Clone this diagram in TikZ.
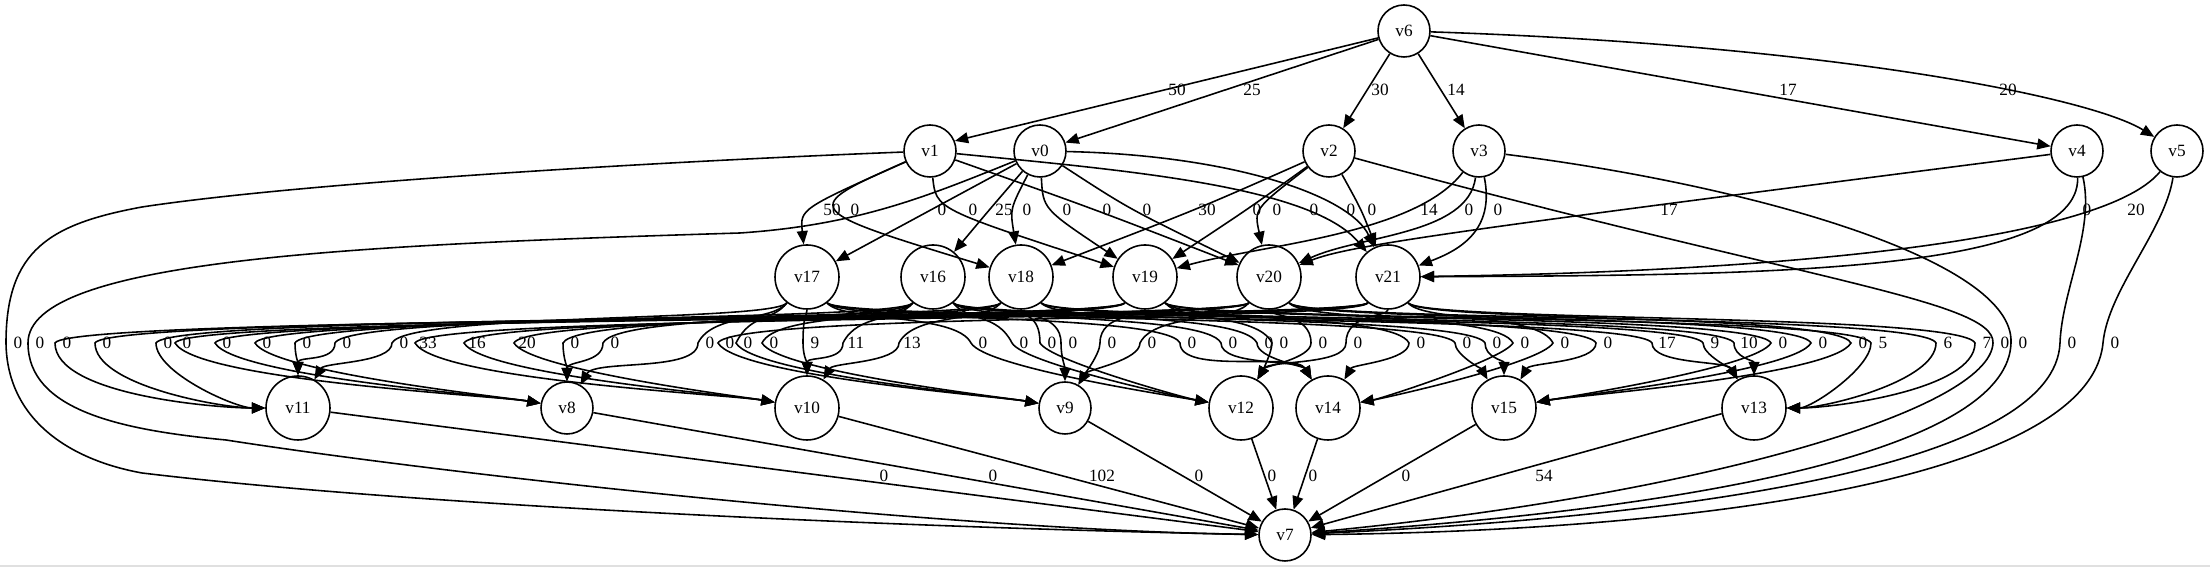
\documentclass[tikz,border=0pt]{standalone}
\usepackage{fontspec}
\setmainfont{Liberation Serif}
\usepackage{xcolor}
\usetikzlibrary{arrows.meta}
\begin{document}
\begin{tikzpicture}[scale=1,
every node/.style={font=\fontsize{4.9}{5.9}\selectfont},
vtx/.style={draw,circle,inner sep=0pt,minimum size=0.52cm,line width=0.45pt},
vtxw/.style={vtx,minimum size=0.64cm},
ed/.style={line width=0.45pt,-{Triangle[length=3.8pt,width=3.1pt]}},
lab/.style={inner sep=0pt},
toL/.style={out=-90,in=180,looseness=0.6},
toLL/.style={out=-60,in=170,looseness=0.3},
toT/.style={out=-90,in=90},
toTL/.style={out=-90,in=120,looseness=0.6},
toTR/.style={out=-90,in=60,looseness=0.6},
toR/.style={out=-90,in=0,looseness=0.6},
toRR/.style={out=-120,in=10,looseness=0.3}]
\useasboundingbox (0,0) rectangle (22.10,-5.67);
\fill[black!12] (0,-5.65) rectangle (22.10,-5.67);
\node[vtx] (v6) at (14.04,-0.31) {v6};
\node[vtx] (v1) at (9.30,-1.51) {v1};
\node[vtx] (v0) at (10.40,-1.51) {v0};
\node[vtx] (v2) at (13.29,-1.51) {v2};
\node[vtx] (v3) at (14.79,-1.51) {v3};
\node[vtx] (v4) at (20.77,-1.51) {v4};
\node[vtx] (v5) at (21.77,-1.51) {v5};
\node[vtxw] (v17) at (8.07,-2.77) {v17};
\node[vtxw] (v16) at (9.33,-2.77) {v16};
\node[vtxw] (v18) at (10.21,-2.77) {v18};
\node[vtxw] (v19) at (11.45,-2.77) {v19};
\node[vtxw] (v20) at (12.69,-2.77) {v20};
\node[vtxw] (v21) at (13.88,-2.77) {v21};
\node[vtxw] (v11) at (2.98,-4.08) {v11};
\node[vtx] (v8) at (5.67,-4.08) {v8};
\node[vtxw] (v10) at (8.07,-4.08) {v10};
\node[vtx] (v9) at (10.65,-4.08) {v9};
\node[vtxw] (v12) at (12.41,-4.08) {v12};
\node[vtxw] (v14) at (13.28,-4.08) {v14};
\node[vtxw] (v15) at (15.04,-4.08) {v15};
\node[vtxw] (v13) at (17.54,-4.08) {v13};
\node[vtx] (v7) at (12.85,-5.35) {v7};
\draw[ed] (v6.195) -- (v1.22) node[lab] at (11.77,-0.90) {50};
\draw[ed] (v6) -- (v0) node[lab] at (12.52,-0.90) {25};
\draw[ed] (v6) -- (v2) node[lab] at (13.80,-0.90) {30};
\draw[ed] (v6) -- (v3) node[lab] at (14.56,-0.90) {14};
\draw[ed] (v6) -- (v4) node[lab] at (17.88,-0.90) {17};
\draw[ed] (v6) .. controls (18.3,-0.45) and (20.9,-0.97) .. (v5) node[lab] at (20.08,-0.90) {20};
\draw[ed] (v1) .. controls (8.00,-2.09) .. (v17) node[lab] at (8.32,-2.10) {50};
\draw[ed] (v1) .. controls (7.99,-2.09) .. (v18) node[lab] at (8.55,-2.10) {0};
\draw[ed] (v0) .. controls (9.32,-2.09) .. (v17) node[lab] at (9.42,-2.10) {0};
\draw[ed] (v1) .. controls (9.36,-2.09) .. (v19) node[lab] at (9.73,-2.10) {0};
\draw[ed] (v0) .. controls (9.90,-2.09) .. (v16) node[lab] at (10.04,-2.10) {25};
\draw[ed] (v0) .. controls (10.10,-2.09) .. (v18) node[lab] at (10.27,-2.10) {0};
\draw[ed] (v0) .. controls (10.43,-2.09) .. (v19) node[lab] at (10.67,-2.10) {0};
\draw[ed] (v1) .. controls (10.94,-2.09) .. (v20) node[lab] at (11.07,-2.10) {0};
\draw[ed] (v0) .. controls (11.29,-2.09) .. (v20) node[lab] at (11.47,-2.10) {0};
\draw[ed] (v2) .. controls (11.98,-2.09) .. (v18) node[lab] at (12.07,-2.10) {30};
\draw[ed] (v2) .. controls (12.48,-2.09) .. (v19) node[lab] at (12.57,-2.10) {0};
\draw[ed] (v2) .. controls (12.54,-2.09) .. (v20) node[lab] at (12.77,-2.10) {0};
\draw[ed] (v1) .. controls (11.2,-1.70) and (13.1,-1.85) .. (v21) node[lab] at (13.14,-2.10) {0};
\draw[ed] (v0) .. controls (12.3,-1.55) and (13.5,-1.95) .. (v21) node[lab] at (13.51,-2.10) {0};
\draw[ed] (v2) .. controls (13.61,-2.09) .. (v21) node[lab] at (13.72,-2.10) {0};
\draw[ed] (v3) .. controls (14.15,-2.35) and (12.6,-2.45) .. (v19) node[lab] at (14.29,-2.10) {14};
\draw[ed] (v3) .. controls (14.68,-2.35) and (13.6,-2.35) .. (v20) node[lab] at (14.69,-2.10) {0};
\draw[ed] (v3) .. controls (14.95,-2.3) and (14.6,-2.5) .. (v21) node[lab] at (14.98,-2.10) {0};
\draw[ed] (v4) .. controls (14.6,-2.3) and (13.5,-2.45) .. (v20) node[lab] at (16.69,-2.10) {17};
\draw[ed] (v4) .. controls (20.8,-2.75) and (17.5,-2.75) .. (v21) node[lab] at (20.87,-2.10) {0};
\draw[ed] (v5) .. controls (21.0,-2.45) and (17.5,-2.72) .. (v21) node[lab] at (21.36,-2.10) {20};
\draw[ed] (v1) .. controls (6.5,-1.62) and (3.0,-1.83) .. (1.42,-2.07) .. controls (0.5,-2.24) and (0.06,-2.5) .. (0.06,-3.43) node[lab] at (0.18,-3.43) {0} .. controls (0.07,-4.2) and (0.7,-4.6) .. (1.42,-4.73) .. controls (4.5,-5.1) and (10,-5.3) .. (v7);
\draw[ed] (v0) .. controls (9.3,-1.95) and (8.6,-2.25) .. (7.40,-2.33) .. controls (3.5,-2.45) and (0.28,-2.6) .. (0.28,-3.43) node[lab] at (0.40,-3.43) {0} .. controls (0.28,-4.1) and (1.2,-4.3) .. (2.26,-4.40) .. controls (4.5,-4.75) and (9.5,-5.3) .. (v7);
\draw[ed] (v2) .. controls (18.0,-2.8) and (19.95,-3.0) .. (19.93,-3.43) node[lab] at (20.05,-3.43) {0} .. controls (19.9,-4.1) and (17.0,-4.95) .. (v7);
\draw[ed] (v3) .. controls (17.5,-1.85) and (20.15,-2.6) .. (20.11,-3.43) node[lab] at (20.23,-3.43) {0} .. controls (20.08,-4.4) and (17.5,-5.05) .. (v7);
\draw[ed] (v4) .. controls (20.95,-2.3) and (20.62,-2.9) .. (20.60,-3.43) node[lab] at (20.72,-3.43) {0} .. controls (20.55,-4.6) and (17.2,-5.15) .. (v7);
\draw[ed] (v5) .. controls (21.65,-2.3) and (21.08,-2.9) .. (21.03,-3.43) node[lab] at (21.15,-3.43) {0} .. controls (20.9,-4.75) and (17.2,-5.3) .. (v7);
\draw[ed] (v21) .. controls +(-0.35,-0.45) and +(0.15,0.3) .. (0.55,-3.43) node[lab] at (0.67,-3.43) {0} to[toL] (v11);
\draw[ed] (v20) .. controls +(-0.35,-0.45) and +(0.15,0.3) .. (0.95,-3.43) node[lab] at (1.07,-3.43) {0} to[toL] (v11);
\draw[ed] (v19) .. controls +(-0.35,-0.45) and +(0.15,0.3) .. (1.56,-3.43) node[lab] at (1.68,-3.43) {0} to[toL] (v11);
\draw[ed] (v18) .. controls +(-0.35,-0.45) and +(0.15,0.3) .. (2.95,-3.43) node[lab] at (3.07,-3.43) {0} to[toT] (v11);
\draw[ed] (v16) .. controls +(-0.35,-0.45) and +(0.15,0.3) .. (3.35,-3.43) node[lab] at (3.47,-3.43) {0} to[toT] (v11);
\draw[ed] (v17) .. controls +(-0.35,-0.45) and +(0.15,0.3) .. (3.92,-3.43) node[lab] at (4.04,-3.43) {0} to[toTR] (v11);
\draw[ed] (v21) .. controls +(-0.35,-0.45) and +(0.15,0.3) .. (1.75,-3.43) node[lab] at (1.87,-3.43) {0} to[toLL] (v8);
\draw[ed] (v20) .. controls +(-0.35,-0.45) and +(0.15,0.3) .. (2.15,-3.43) node[lab] at (2.27,-3.43) {0} to[toLL] (v8);
\draw[ed] (v19) .. controls +(-0.35,-0.45) and +(0.15,0.3) .. (2.55,-3.43) node[lab] at (2.67,-3.43) {0} to[toLL] (v8);
\draw[ed] (v18) .. controls +(-0.35,-0.45) and +(0.15,0.3) .. (5.63,-3.43) node[lab] at (5.75,-3.43) {0} to[toT] (v8);
\draw[ed] (v16) .. controls +(-0.35,-0.45) and +(0.15,0.3) .. (6.03,-3.43) node[lab] at (6.15,-3.43) {0} to[toT] (v8);
\draw[ed] (v17) .. controls +(-0.35,-0.45) and +(0.15,0.3) .. (6.98,-3.43) node[lab] at (7.10,-3.43) {0} to[toTR] (v8);
\draw[ed] (v21) .. controls +(-0.35,-0.45) and +(0.15,0.3) .. (4.15,-3.43) node[lab] at (4.28,-3.43) {33} to[toLL] (v10);
\draw[ed] (v20) .. controls +(-0.35,-0.45) and +(0.15,0.3) .. (4.64,-3.43) node[lab] at (4.77,-3.43) {16} to[toLL] (v10);
\draw[ed] (v19) .. controls +(-0.35,-0.45) and +(0.15,0.3) .. (5.14,-3.43) node[lab] at (5.27,-3.43) {20} to[toLL] (v10);
\draw[ed] (v17) .. controls +(0,-0.4) and +(0,0.3) .. (8.03,-3.43) node[lab] at (8.15,-3.43) {9} to[toT] (v10);
\draw[ed] (v16) .. controls +(-0.35,-0.45) and +(0.15,0.3) .. (8.43,-3.43) node[lab] at (8.56,-3.43) {11} to[toT] (v10);
\draw[ed] (v18) .. controls +(-0.35,-0.45) and +(0.15,0.3) .. (8.99,-3.43) node[lab] at (9.12,-3.43) {13} to[toTR] (v10);
\draw[ed] (v21) .. controls +(-0.35,-0.45) and +(0.15,0.3) .. (7.18,-3.43) node[lab] at (7.30,-3.43) {0} to[toLL] (v9);
\draw[ed] (v17) .. controls +(-0.35,-0.45) and +(0.15,0.3) .. (7.36,-3.43) node[lab] at (7.48,-3.43) {0} to[toLL] (v9);
\draw[ed] (v16) .. controls +(-0.35,-0.45) and +(0.15,0.3) .. (7.62,-3.43) node[lab] at (7.74,-3.43) {0} to[toLL] (v9);
\draw[ed] (v18) .. controls +(0,-0.4) and +(0,0.3) .. (10.61,-3.43) node[lab] at (10.73,-3.43) {0} to[toT] (v9);
\draw[ed] (v19) .. controls +(0,-0.4) and +(0,0.3) .. (11.00,-3.43) node[lab] at (11.12,-3.43) {0} to[toTR] (v9);
\draw[ed] (v20) .. controls +(-0.35,-0.45) and +(0.15,0.3) .. (11.40,-3.43) node[lab] at (11.52,-3.43) {0} to[toTR] (v9);
\draw[ed] (v17) .. controls +(0.35,-0.45) and +(-0.15,0.3) .. (9.71,-3.43) node[lab] at (9.83,-3.43) {0} to[toLL] (v12);
\draw[ed] (v16) .. controls +(0.35,-0.45) and +(-0.15,0.3) .. (10.12,-3.43) node[lab] at (10.24,-3.43) {0} to[toLL] (v12);
\draw[ed] (v18) .. controls +(0,-0.4) and +(0,0.3) .. (10.40,-3.43) node[lab] at (10.52,-3.43) {0} to[toLL] (v12);
\draw[ed] (v19) .. controls +(0.35,-0.45) and +(-0.15,0.3) .. (12.72,-3.43) node[lab] at (12.84,-3.43) {0} to[toTR] (v12);
\draw[ed] (v20) .. controls +(0,-0.4) and +(0,0.3) .. (13.11,-3.43) node[lab] at (13.23,-3.43) {0} to[toTR] (v12);
\draw[ed] (v21) .. controls +(0,-0.4) and +(0,0.3) .. (13.46,-3.43) node[lab] at (13.58,-3.43) {0} to[toTR] (v12);
\draw[ed] (v17) .. controls +(0.35,-0.45) and +(-0.15,0.3) .. (11.80,-3.43) node[lab] at (11.92,-3.43) {0} to[toTL] (v14);
\draw[ed] (v16) .. controls +(0.35,-0.45) and +(-0.15,0.3) .. (12.21,-3.43) node[lab] at (12.33,-3.43) {0} to[toTL] (v14);
\draw[ed] (v18) .. controls +(0.35,-0.45) and +(-0.15,0.3) .. (12.57,-3.43) node[lab] at (12.69,-3.43) {0} to[toTL] (v14);
\draw[ed] (v19) .. controls +(0.35,-0.45) and +(-0.15,0.3) .. (14.09,-3.43) node[lab] at (14.21,-3.43) {0} to[toTR] (v14);
\draw[ed] (v20) .. controls +(0.35,-0.45) and +(-0.15,0.3) .. (15.13,-3.43) node[lab] at (15.25,-3.43) {0} to[toRR] (v14);
\draw[ed] (v21) .. controls +(0.35,-0.45) and +(-0.15,0.3) .. (15.53,-3.43) node[lab] at (15.65,-3.43) {0} to[toRR] (v14);
\draw[ed] (v17) .. controls +(0.35,-0.45) and +(-0.15,0.3) .. (14.55,-3.43) node[lab] at (14.67,-3.43) {0} to[toTL] (v15);
\draw[ed] (v16) .. controls +(0.35,-0.45) and +(-0.15,0.3) .. (14.85,-3.43) node[lab] at (14.97,-3.43) {0} to[toT] (v15);
\draw[ed] (v18) .. controls +(0.35,-0.45) and +(-0.15,0.3) .. (15.96,-3.43) node[lab] at (16.08,-3.43) {0} to[toTR] (v15);
\draw[ed] (v19) .. controls +(0.35,-0.45) and +(-0.15,0.3) .. (17.71,-3.43) node[lab] at (17.83,-3.43) {0} to[toRR] (v15);
\draw[ed] (v20) .. controls +(0.35,-0.45) and +(-0.15,0.3) .. (18.11,-3.43) node[lab] at (18.23,-3.43) {0} to[toRR] (v15);
\draw[ed] (v21) .. controls +(0.35,-0.45) and +(-0.15,0.3) .. (18.51,-3.43) node[lab] at (18.63,-3.43) {0} to[toRR] (v15);
\draw[ed] (v17) .. controls +(0.35,-0.45) and +(-0.15,0.3) .. (16.52,-3.43) node[lab] at (16.67,-3.43) {17} to[toTL] (v13);
\draw[ed] (v16) .. controls +(0.35,-0.45) and +(-0.15,0.3) .. (17.03,-3.43) node[lab] at (17.15,-3.43) {9} to[toTL] (v13);
\draw[ed] (v18) .. controls +(0.35,-0.45) and +(-0.15,0.3) .. (17.34,-3.43) node[lab] at (17.49,-3.43) {10} to[toT] (v13);
\draw[ed] (v19) .. controls +(0.35,-0.45) and +(-0.15,0.3) .. (18.71,-3.43) node[lab] at (18.83,-3.43) {5} to[toR] (v13);
\draw[ed] (v20) .. controls +(0.35,-0.45) and +(-0.15,0.3) .. (19.36,-3.43) node[lab] at (19.48,-3.43) {6} to[toR] (v13);
\draw[ed] (v21) .. controls +(0.35,-0.45) and +(-0.15,0.3) .. (19.75,-3.43) node[lab] at (19.87,-3.43) {7} to[toR] (v13);
\draw[ed] (v11) -- (v7) node[lab] at (8.84,-4.76) {0};
\draw[ed] (v8) -- (v7) node[lab] at (9.93,-4.76) {0};
\draw[ed] (v10) -- (v7) node[lab] at (11.02,-4.76) {102};
\draw[ed] (v9) -- (v7) node[lab] at (11.99,-4.76) {0};
\draw[ed] (v12) -- (v7) node[lab] at (12.72,-4.76) {0};
\draw[ed] (v14) -- (v7) node[lab] at (13.13,-4.76) {0};
\draw[ed] (v15) -- (v7) node[lab] at (14.06,-4.76) {0};
\draw[ed] (v13.190) -- (v7) node[lab] at (15.44,-4.76) {54};
\end{tikzpicture}
\end{document}
